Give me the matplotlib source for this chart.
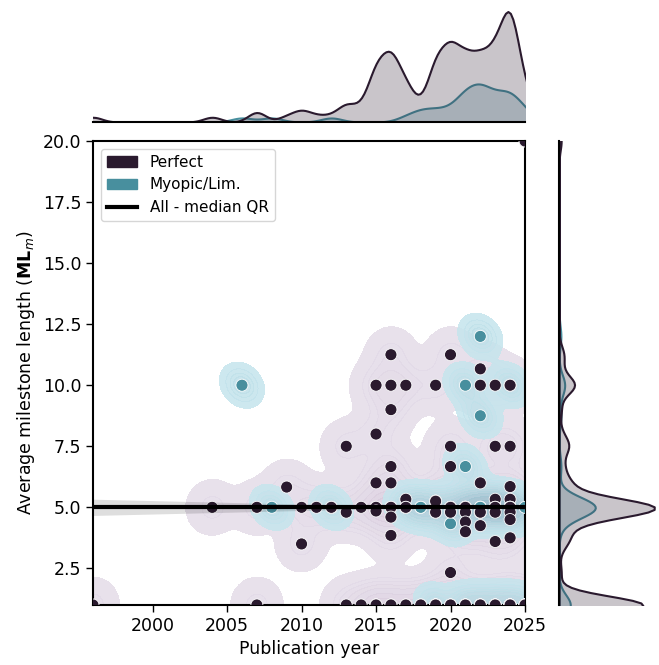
import numpy as np
import pandas as pd
import matplotlib
matplotlib.use("Agg")
import matplotlib.pyplot as plt
import seaborn as sns
from matplotlib.patches import Patch
from matplotlib.lines import Line2D
from matplotlib.colors import LinearSegmentedColormap
from matplotlib.ticker import MultipleLocator

# studies with perfect foresight: publication year, avg milestone length, number of studies
perfect_year = [1996, 2004, 2007, 2007, 2009, 2010, 2010, 2011, 2012, 2013, 2013, 2013,
                2014, 2014, 2015, 2015, 2015, 2015, 2015, 2015,
                2016, 2016, 2016, 2016, 2016, 2016, 2016, 2016, 2016,
                2017, 2017, 2017, 2017, 2018, 2019, 2019, 2019, 2019,
                2020, 2020, 2020, 2020, 2020, 2020, 2020,
                2021, 2021, 2021, 2021, 2021,
                2022, 2022, 2022, 2022, 2022, 2022,
                2023, 2023, 2023, 2023, 2023, 2023, 2023,
                2024, 2024, 2024, 2024, 2024, 2024, 2024, 2024, 2024,
                2025, 2025]
perfect_ml = [1.0, 5.0, 5.0, 1.0, 5.83, 5.0, 3.5, 5.0, 5.0, 7.5, 4.8, 1.0,
              5.0, 1.0, 10.0, 8.0, 6.0, 5.0, 4.85, 1.0,
              11.25, 10.0, 9.0, 6.67, 6.0, 5.0, 4.6, 3.85, 1.0,
              10.0, 5.33, 5.0, 1.0, 1.0, 10.0, 5.25, 4.8, 1.0,
              11.25, 7.5, 6.67, 5.0, 4.8, 2.33, 1.0,
              5.0, 4.8, 4.4, 4.0, 1.0,
              10.67, 10.0, 6.0, 4.8, 4.25, 1.0,
              10.0, 7.5, 5.33, 5.0, 4.8, 3.6, 1.0,
              10.0, 7.5, 5.85, 5.33, 5.0, 4.8, 4.5, 3.75, 1.0,
              20.0, 1.0]
perfect_n = [1, 1, 1, 1, 1, 1, 1, 1, 1, 1, 1, 1,
             1, 1, 1, 1, 1, 2, 1, 3,
             1, 1, 1, 1, 1, 2, 1, 1, 2,
             1, 1, 2, 2, 2, 1, 3, 2, 4,
             1, 1, 1, 4, 1, 1, 3,
             4, 1, 1, 1, 3,
             1, 1, 1, 3, 1, 3,
             1, 1, 1, 3, 1, 1, 3,
             1, 1, 1, 1, 6, 1, 1, 1, 6,
             1, 4]

# studies with myopic / limited foresight
myopic_year = [2006, 2008, 2012, 2017, 2018, 2019, 2019, 2020, 2020, 2021, 2021, 2021,
               2021, 2022, 2022, 2022, 2022, 2023, 2023, 2024, 2024, 2024, 2025, 2025]
myopic_ml = [10.0, 5.0, 5.0, 5.0, 5.0, 5.0, 1.0, 4.33, 5.0, 10.0, 6.67, 5.0,
             1.0, 12.0, 8.75, 5.0, 1.0, 5.0, 1.0, 10.0, 5.0, 1.0, 5.0, 1.0]
myopic_n = [1, 1, 1, 1, 2, 1, 1, 1, 1, 1, 1, 2,
            1, 1, 1, 3, 1, 3, 1, 1, 3, 1, 1, 1]

# median quantile regression over all studies
qr_intercept = 5.0
qr_slope = 0.0
qr_slope_ci = (-0.0145, 0.0145)
qr_center = 2019.0

groups = ["Perfect", "Myopic/Lim."]
colors = {"Perfect": "#2a1a2e", "Myopic/Lim.": "#488f9e"}
kde_cmaps = {"Perfect": ["#e5dde9", "#cbb9d2"],
             "Myopic/Lim.": ["#c6e6ee", "#93b9c8"]}
kde_bw = {"Perfect": 0.4, "Myopic/Lim.": 0.3}
kde_thresh = {"Perfect": 0.01, "Myopic/Lim.": 0.04}


def expand(years, mls, counts, label):
    return pd.DataFrame({"year": np.repeat(years, counts),
                         "ml": np.repeat(mls, counts),
                         "foresight": label})


df = pd.concat([expand(myopic_year, myopic_ml, myopic_n, "Myopic/Lim."),
                expand(perfect_year, perfect_ml, perfect_n, "Perfect")],
               ignore_index=True)

W, H = 659, 665
fig = plt.figure(figsize=(W / 100, H / 100), dpi=100)
ax = fig.add_axes([93 / W, 1 - 605 / H, 432 / W, 464 / H])
ax_top = fig.add_axes([93 / W, 1 - 122 / H, 432 / W, 116 / H])
ax_right = fig.add_axes([559 / W, 1 - 605 / H, 100 / W, 464 / H])

# joint density, one group at a time (outlier at the top left out of the contours)
for g in groups:
    sub = df[df["foresight"] == g]
    cmap = LinearSegmentedColormap.from_list(g, kde_cmaps[g])
    sns.kdeplot(x=sub["year"], y=sub["ml"], fill=True, cmap=cmap, alpha=0.85,
                levels=12, thresh=kde_thresh[g], bw_adjust=kde_bw[g],
                clip=((1980, 2040), (-10, 18.5)), ax=ax)

sns.scatterplot(data=df, x="year", y="ml", hue="foresight", palette=colors,
                s=75, edgecolor="white", linewidth=0.6, ax=ax, legend=False, zorder=3)

xs = np.linspace(1990, 2030, 200)
lo = qr_intercept + qr_slope_ci[0] * (xs - qr_center)
hi = qr_intercept + qr_slope_ci[1] * (xs - qr_center)
ax.fill_between(xs, np.minimum(lo, hi), np.maximum(lo, hi), color="black",
                alpha=0.13, linewidth=0, zorder=4)
ax.plot(xs, qr_intercept + qr_slope * (xs - qr_center), color="black", lw=3, zorder=5)

# marginals
sns.kdeplot(data=df, x="year", hue="foresight", hue_order=groups, palette=colors,
            fill=True, alpha=0.25, linewidth=1.5, bw_adjust=0.32, ax=ax_top, legend=False)
sns.kdeplot(data=df, y="ml", hue="foresight", hue_order=groups, palette=colors,
            fill=True, alpha=0.25, linewidth=1.5, bw_adjust=0.3, ax=ax_right, legend=False)

ax.set_xlim(1996, 2025)
ax.set_ylim(1, 20)
ax_top.set_xlim(1996, 2025)
ax_top.set_ylim(bottom=0)
ax_right.set_ylim(1, 20)
ax_right.set_xlim(left=0)
ax.yaxis.set_major_locator(MultipleLocator(2.5))

for a in (ax_top, ax_right):
    a.set_xlabel("")
    a.set_ylabel("")
    a.set_xticks([])
    a.set_yticks([])
    for s in ("top", "right"):
        a.spines[s].set_visible(False)
ax_top.spines["left"].set_visible(False)
ax_right.spines["bottom"].set_visible(False)
ax_top.spines["bottom"].set_linewidth(1.5)
ax_right.spines["left"].set_linewidth(1.5)

for s in ax.spines.values():
    s.set_linewidth(1.5)
ax.tick_params(labelsize=12.5, length=5, width=1)
ax.set_xlabel("Publication year", fontsize=12.5)
ax.set_ylabel(r"Average milestone length ($\mathbf{ML}_m$)", fontsize=12.5)

handles = [Patch(color=colors["Perfect"]), Patch(color=colors["Myopic/Lim."]),
           Line2D([], [], color="black", lw=3)]
ax.legend(handles, ["Perfect", "Myopic/Lim.", "All - median QR"], loc="upper left",
          fontsize=11)

fig.savefig("out.png", dpi=100)
